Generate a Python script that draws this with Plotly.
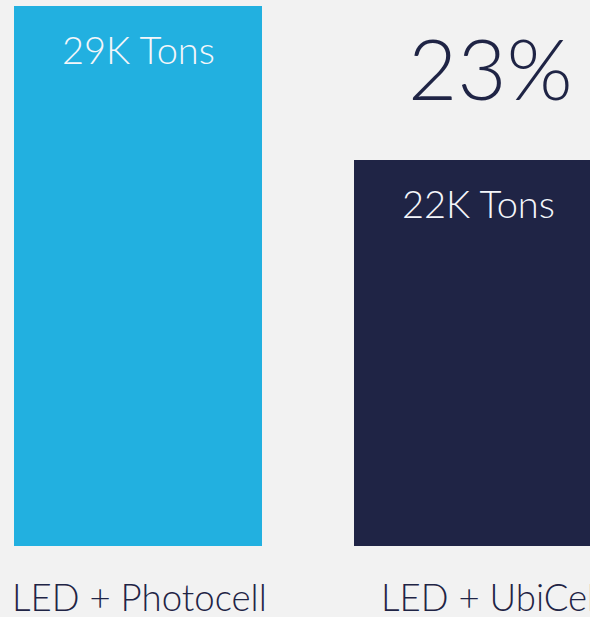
import plotly.graph_objects as go

categories = ["LED + Photocell", "LED + UbiCell"]
values = [29, 22]
bar_labels = ["29K Tons", "22K Tons"]
bar_colors = ["#22b0e0", "#1f2445"]
reduction_label = "23%"

FONT = "Lato"
xpos = list(range(len(categories)))
label_xshift = [1, 14]

fig = go.Figure()
fig.add_trace(go.Bar(
    x=xpos, y=values, width=0.7294,
    marker=dict(color=bar_colors, line=dict(width=0)),
    hoverinfo="skip",
))

for xi, v, lab in zip(xpos, values, bar_labels):
    fig.add_annotation(x=xi, y=v, xref="x", yref="y", text=lab, showarrow=False,
                       yanchor="top", yshift=-18,
                       font=dict(family=FONT, size=38, color="#f4f6fa", weight=300))

for xi, cat, dx in zip(xpos, categories, label_xshift):
    fig.add_annotation(x=xi, y=0, xref="x", yref="paper", text=cat, showarrow=False,
                       yanchor="top", yshift=-27, xshift=dx,
                       font=dict(family=FONT, size=36.6, color="#1f2445", weight=300))

fig.add_annotation(x=xpos[1], y=values[0], xref="x", yref="y", text=reduction_label,
                   showarrow=False, xshift=12, yanchor="top", yshift=-8,
                   font=dict(family=FONT, size=85, color="#1f2445", weight=300))

fig.update_layout(
    width=590, height=617,
    margin=dict(l=0, r=0, t=6, b=71, pad=0, autoexpand=False),
    paper_bgcolor="#f2f2f2", plot_bgcolor="#f2f2f2",
    showlegend=False,
    xaxis=dict(range=[-0.4059, 1.3294], tickvals=xpos,
               showgrid=False, zeroline=False, showline=False, ticks="",
               showticklabels=False, automargin=False),
    yaxis=dict(range=[4.45, 29], showgrid=False, zeroline=False, showline=False,
               showticklabels=False, ticks="", automargin=False),
)

fig.write_html("out.html")
